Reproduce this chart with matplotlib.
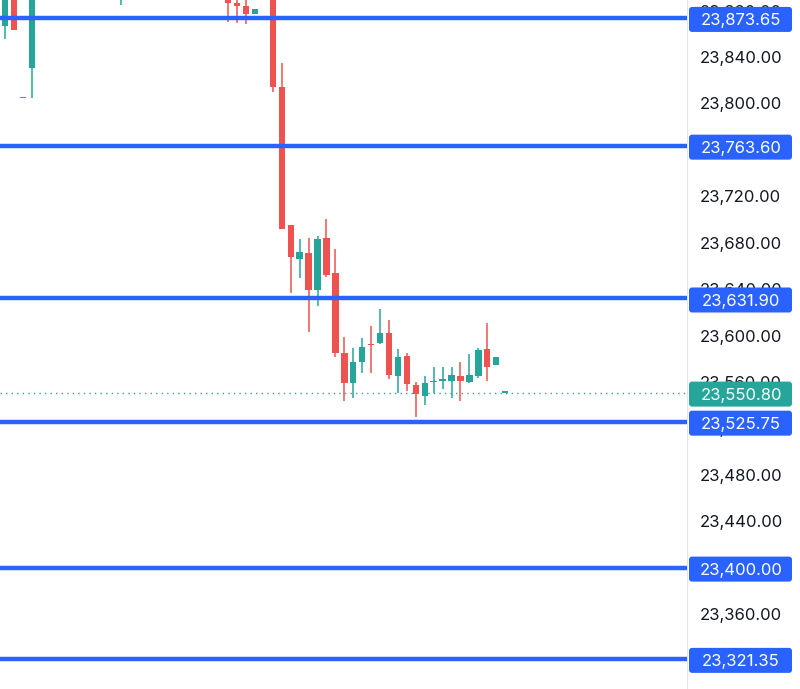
import matplotlib
matplotlib.use("Agg")
import matplotlib.pyplot as plt
from matplotlib.patches import FancyBboxPatch
from matplotlib.transforms import IdentityTransform

plt.rcParams['font.family'] = ['Inter', 'DejaVu Sans']

# bar number, open, high, low, close (bars above the view are left out)
bar_idx = [0, 1, 2, 3, 13, 25, 26, 27, 28, 30, 31, 32, 33, 34, 35, 36, 37, 38,
           39, 40, 41, 42, 43, 44, 45, 46, 47, 48, 49, 50, 51, 52, 53, 54, 55, 56]
opens = [23866.7, 23895.0, 23804.6, 23830.5, 23895.0, 23895.0, 23886.1, 23884.2,
         23876.8, 23900.0, 23814.4, 23694.9, 23666.2, 23670.8, 23639.2, 23684.3,
         23654.1, 23584.6, 23558.8, 23576.9, 23592.7, 23593.8, 23601.9, 23565.4,
         23582.6, 23557.3, 23548.1, 23559.7, 23560.8, 23561.0, 23565.1, 23560.2,
         23565.1, 23588.4, 23574.6, 23550.8]
highs = [23898.0, 23900.0, 23805.0, 23905.0, 23910.0, 23900.0, 23892.0, 23889.5,
         23881.4, 23905.0, 23834.6, 23694.9, 23683.2, 23683.8, 23686.0, 23700.1,
         23674.5, 23599.0, 23589.2, 23597.6, 23608.2, 23622.6, 23613.4, 23588.1,
         23584.9, 23560.2, 23565.1, 23573.1, 23573.1, 23573.1, 23576.9, 23583.8,
         23588.9, 23611.0, 23581.7, 23550.8]
lows = [23855.5, 23863.3, 23804.3, 23804.7, 23884.8, 23870.2, 23869.6, 23868.2,
        23876.8, 23809.6, 23692.2, 23636.4, 23649.3, 23603.3, 23625.7, 23650.1,
        23581.7, 23543.8, 23546.5, 23567.4, 23567.9, 23592.4, 23562.5, 23550.2,
        23552.4, 23529.5, 23540.1, 23550.2, 23553.9, 23545.9, 23543.8, 23559.3,
        23563.1, 23561.0, 23574.6, 23550.8]
closes = [23893.0, 23863.3, 23804.6, 23900.0, 23905.0, 23886.1, 23884.2, 23876.8,
          23881.4, 23813.9, 23692.2, 23667.9, 23671.7, 23639.2, 23683.2, 23652.1,
          23584.6, 23558.8, 23577.4, 23590.3, 23591.5, 23602.4, 23566.0, 23581.7,
          23557.9, 23549.3, 23559.3, 23561.0, 23562.8, 23566.0, 23561.0, 23566.0,
          23587.5, 23572.6, 23581.7, 23550.8]

levels = [23873.65, 23763.60, 23631.90, 23525.75, 23400.00, 23321.35]
last_price = 23550.80
price_ticks = list(range(23320, 23881, 40))

up_col = "#26a69a"
down_col = "#ef5350"
blue = "#2962ff"

fig = plt.figure(figsize=(8, 6.89), dpi=100)
ax = fig.add_axes([0, 0, 687 / 800, 1])

for i, o, h, l, c in zip(bar_idx, opens, highs, lows, closes):
    col = up_col if c >= o else down_col
    ax.vlines(i, l, h, color=col, lw=1.1, zorder=3)
    body = max(abs(c - o), 1.0)
    ax.bar(i, body, bottom=min(o, c), width=0.72, color=col, zorder=3)

for lv in levels:
    ax.axhline(lv, color=blue, lw=3.2, zorder=4)
ax.axhline(last_price, color=up_col, lw=1, ls=(0, (1, 3)), zorder=2)

ax.set_xlim(-0.56, 76.37)
ax.set_ylim(23295.4, 23889.1)
ax.set_xticks([])
ax.yaxis.tick_right()
ax.set_yticks(price_ticks)
ax.set_yticklabels([f"{t:,.2f}" for t in price_ticks])
ax.tick_params(axis="y", length=0, pad=9.4, labelsize=12, labelcolor="#131722")
for s in ["left", "top", "bottom"]:
    ax.spines[s].set_visible(False)
ax.spines["right"].set_color("#e0e3eb")

# price labels on the scale
def price_box(price, color):
    yc = ax.transData.transform((0, price))[1] - 1.5
    box = FancyBboxPatch((689, yc - 12.5), 103, 25,
                         boxstyle="round,pad=0,rounding_size=3",
                         transform=IdentityTransform(), fc=color, ec="none")
    fig.add_artist(box)
    fig.text(741, yc, f"{price:,.2f}", transform=IdentityTransform(),
             color="white", fontsize=12, ha="center", va="center_baseline")

for lv in levels:
    price_box(lv, blue)
price_box(last_price, up_col)

fig.savefig("out.png", dpi=100)
